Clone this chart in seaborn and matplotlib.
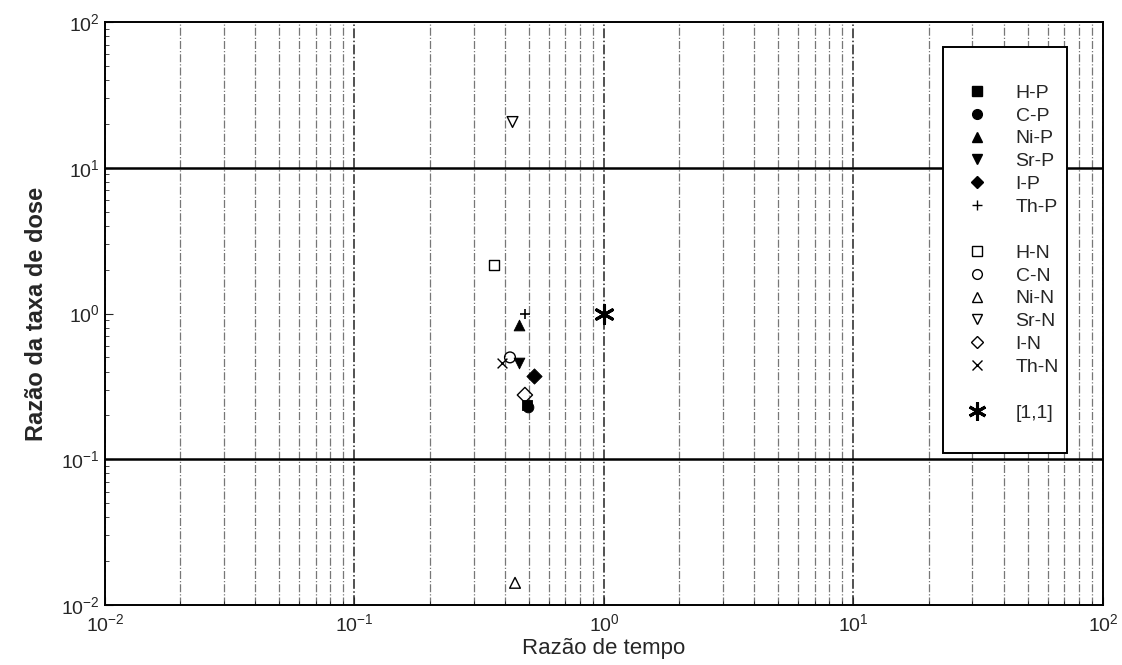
import numpy as np
import pandas as pd
import matplotlib
matplotlib.use('Agg')
import matplotlib.pyplot as plt
import seaborn as sns
from matplotlib.lines import Line2D
from matplotlib.patches import Rectangle
from matplotlib.ticker import LogLocator

# valores
labels_p = ['H-P', 'C-P', 'Ni-P', 'Sr-P', 'I-P', 'Th-P']
labels_n = ['H-N', 'C-N', 'Ni-N', 'Sr-N', 'I-N', 'Th-N']
tempo_p = [0.49, 0.495, 0.456, 0.456, 0.523, 0.482]
dose_p  = [0.235, 0.229, 0.834, 0.457, 0.372, 1.0]
tempo_n = [0.362, 0.42, 0.44, 0.43, 0.482, 0.39]
dose_n  = [2.15, 0.50, 0.0142, 20.6, 0.276, 0.457]
ref_x, ref_y = [1.0], [1.0]

markers_p = ['s', 'o', '^', 'v', 'D', '+']
markers_n = ['s', 'o', '^', 'v', 'D', 'x']

sns.set_style('ticks')
plt.rcParams['font.family'] = ['Liberation Sans', 'DejaVu Sans']
plt.rcParams['mathtext.default'] = 'regular'

fig = plt.figure(figsize=(11.22, 6.65), dpi=100)
ax = fig.add_axes([0.0936, 0.0902, 0.8894, 0.8767])

ax.set_xscale('log')
ax.set_yscale('log')
ax.set_xlim(1e-2, 1e2)
ax.set_ylim(1e-2, 1e2)

# grade vertical tracejada
ax.xaxis.set_minor_locator(LogLocator(base=10, subs=np.arange(2, 10)))
ax.grid(which='major', axis='x', linestyle='-.', color='#222222', lw=1.1)
ax.grid(which='minor', axis='x', linestyle='-.', color='#777777', lw=0.9)
ax.axhline(10, color='black', lw=1.8, zorder=1)
ax.axhline(0.1, color='black', lw=1.8, zorder=1)

blank = lambda: Line2D([], [], ls='none', label=' ')
handles = []
for lab, x, y, m in zip(labels_p, tempo_p, dose_p, markers_p):
    df = pd.DataFrame({'x': [x], 'y': [y]})
    if m == '+':
        sns.scatterplot(data=df, x='x', y='y', marker=m, color='black', s=60,
                        linewidth=1.2, ax=ax, zorder=3)
    else:
        sns.scatterplot(data=df, x='x', y='y', marker=m, color='black', s=60,
                        edgecolor='black', ax=ax, zorder=3)
    handles.append(Line2D([], [], marker=m, color='black', ls='none',
                          markersize=7 if m != 'D' else 6, label=lab))
handles.append(blank())
for lab, x, y, m in zip(labels_n, tempo_n, dose_n, markers_n):
    df = pd.DataFrame({'x': [x], 'y': [y]})
    if m == 'x':
        sns.scatterplot(data=df, x='x', y='y', marker=m, color='black', s=50,
                        linewidth=1.0, ax=ax, zorder=3)
    else:
        sns.scatterplot(data=df, x='x', y='y', marker=m, facecolor='none',
                        edgecolor='black', s=60, linewidth=1.0, ax=ax, zorder=3)
    handles.append(Line2D([], [], marker=m, color='black', mfc='none', ls='none',
                          markersize=7 if m != 'D' else 6, label=lab))
handles.append(blank())
sns.scatterplot(x=ref_x, y=ref_y, marker=(6, 2, 0), color='black', s=170,
                linewidth=2.2, ax=ax, zorder=4)
handles.append(Line2D([], [], marker=(6, 2, 0), color='black', ls='none',
                      markersize=13, mew=2.2, label='[1,1]'))

# caixa da legenda
ax.add_patch(Rectangle((0.8397, 0.261), 0.1243, 0.696, transform=ax.transAxes,
                       facecolor='white', edgecolor='black', lw=1.4, zorder=5))
leg = ax.legend(handles=handles, loc='upper left', bbox_to_anchor=(0.8657, 0.8936),
                frameon=False, fontsize=14, handlelength=0.8, handletextpad=1.6,
                labelspacing=0.27, borderpad=0, borderaxespad=0)
leg.set_zorder(6)

ax.set_xlabel('Razão de tempo', fontsize=16, labelpad=2)
ax.set_ylabel('Razão da taxa de dose', fontsize=17, fontweight='bold', labelpad=10)
ax.tick_params(which='both', direction='in', labelsize=14)
ax.tick_params(axis='x', pad=6)
ax.tick_params(which='major', length=6)
ax.tick_params(which='minor', length=3)
for sp in ax.spines.values():
    sp.set_linewidth(1.4)
    sp.set_color('black')

plt.savefig('out.png', dpi=100)
plt.close()
